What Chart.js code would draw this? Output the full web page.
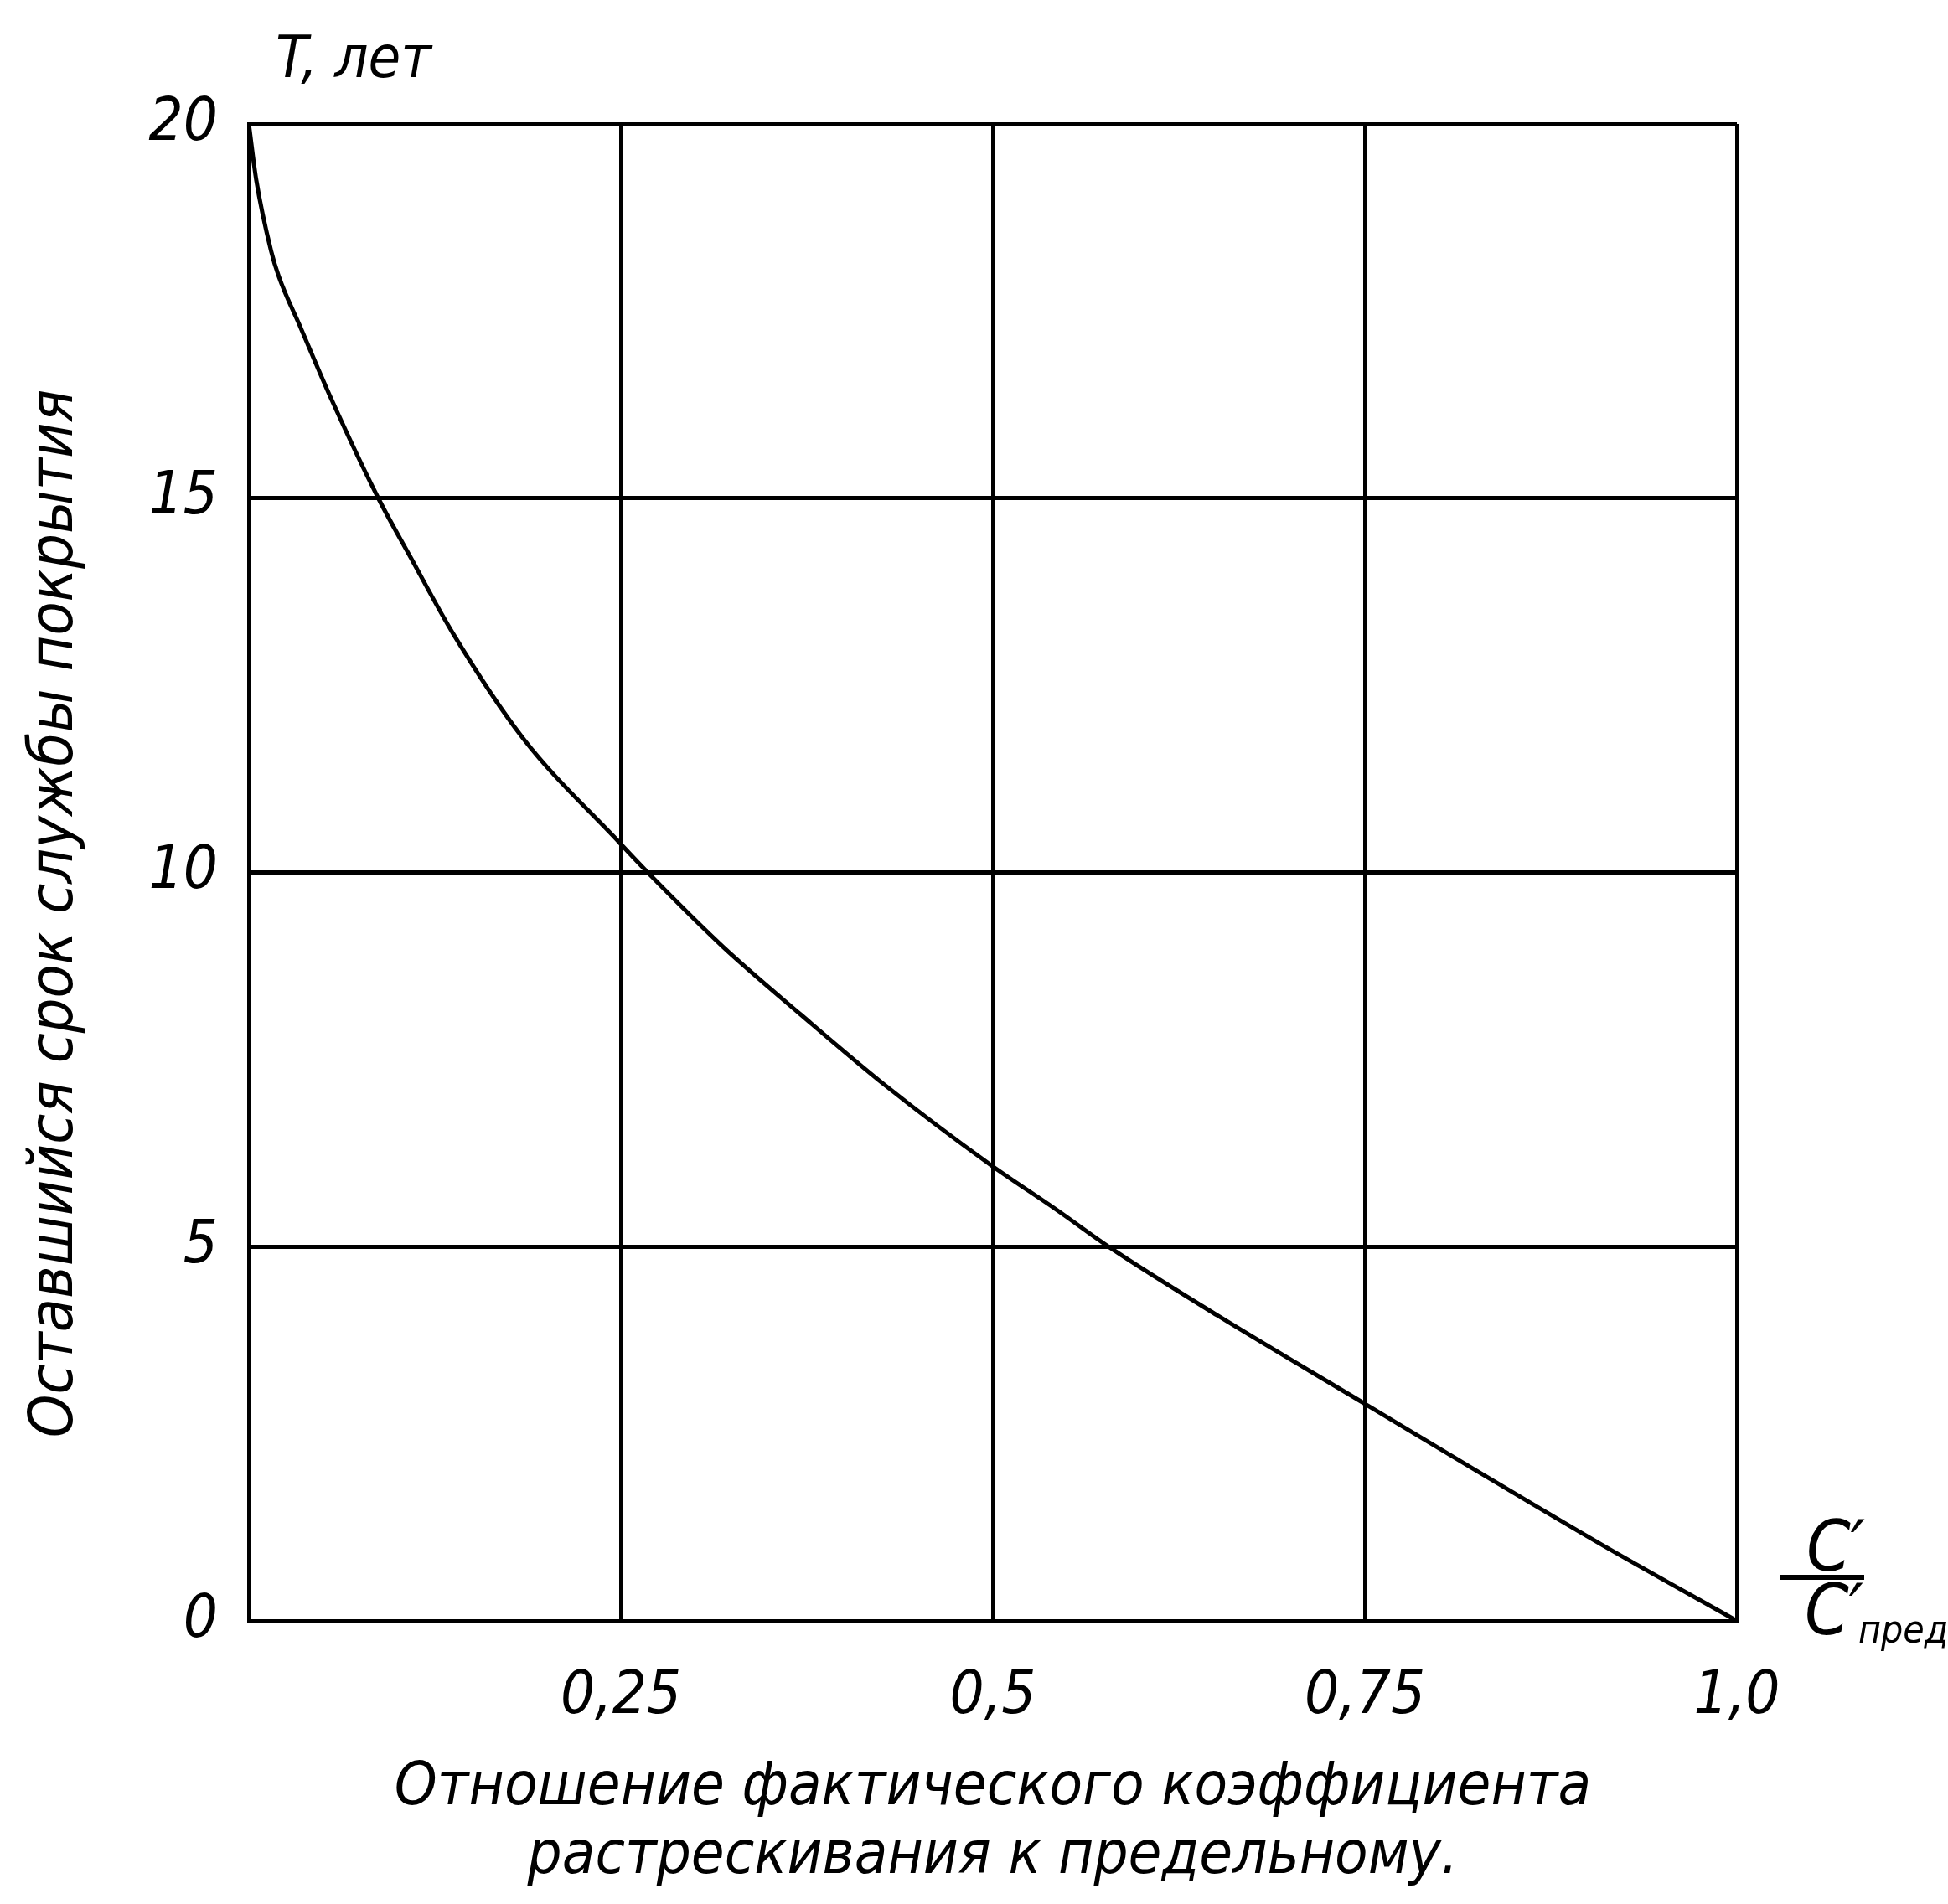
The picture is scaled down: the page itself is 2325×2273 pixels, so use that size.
<!DOCTYPE html>
<html lang="ru">
<head>
    <meta charset="UTF-8">
    <title>Оставшийся срок службы покрытия</title>
    <style>
        body {
            margin: 0;
            background-color: #fff;
        }
        #lifeChart {
            display: block;
        }
    </style>
    <script src="https://cdn.jsdelivr.net/npm/chart.js"></script>
</head>
<body>
    <canvas id="lifeChart" width="2325" height="2273"></canvas>
    <script>
        // values
        const ratioValues = [0, 0.005, 0.015, 0.02, 0.035, 0.056, 0.087, 0.109, 0.137, 0.184, 0.249, 0.27, 0.319, 0.371, 0.428, 0.498, 0.543, 0.58, 0.651, 0.75, 0.823, 0.909, 1.0];
        const lifeYears = [20, 19.25, 18.3, 17.97, 17.27, 16.3, 15.0, 14.2, 13.2, 11.8, 10.4, 9.96, 9.0, 8.1, 7.15, 6.1, 5.49, 4.97, 4.08, 2.9, 2.03, 1.02, 0];

        const xTickValues = [0, 0.25, 0.5, 0.75, 1];
        const xTickLabels = ['', '0,25', '0,5', '0,75', '1,0'];
        const yTickValues = [0, 5, 10, 15, 20];
        const yTickLabels = ['0', '5', '10', '15', '20'];

        const yUnitLabel = 'T, лет';
        const yTitle = 'Оставшийся срок службы покрытия';
        const xTitleLines = ['Отношение фактического коэффициента', 'растрескивания к предельному.'];

        const FONT = "'DejaVu Sans Condensed', 'DejaVu Sans', sans-serif";

        // T, лет, the rotated y title and the C'/C'пред fraction
        const extraLabels = {
            id: 'extraLabels',
            afterDraw(chart) {
                const { ctx, chartArea } = chart;
                ctx.save();
                ctx.fillStyle = '#000';
                ctx.textAlign = 'left';
                ctx.textBaseline = 'alphabetic';
                ctx.font = `italic 70px ${FONT}`;
                ctx.fillText(yUnitLabel, chartArea.left + 32, chartArea.top - 56);

                const fx = chartArea.right + 51;
                const fy = chartArea.bottom - 52;
                ctx.fillRect(fx, fy - 3, 101, 6);
                ctx.font = `italic 84px ${FONT}`;
                ctx.fillText('C\u2032', fx + 32, fy - 8);
                ctx.fillText('C\u2032', fx + 30, fy + 68);
                ctx.font = `italic 46px ${FONT}`;
                ctx.fillText('пред', fx + 94, fy + 78);

                ctx.translate(67, (chartArea.top + chartArea.bottom) / 2 + 49);
                ctx.rotate(-Math.PI / 2);
                ctx.textAlign = 'center';
                ctx.textBaseline = 'middle';
                ctx.font = `italic 73px ${FONT}`;
                ctx.fillText(yTitle, 0, 0);
                ctx.restore();
            }
        };

        const ctx = document.getElementById('lifeChart').getContext('2d');
        const chart = new Chart(ctx, {
            type: 'scatter',
            data: {
                datasets: [{
                    data: ratioValues.map((x, i) => ({ x: x, y: lifeYears[i] })),
                    showLine: true,
                    borderColor: '#000',
                    borderWidth: 5,
                    pointRadius: 0,
                    cubicInterpolationMode: 'monotone',
                    fill: false
                }]
            },
            options: {
                responsive: false,
                devicePixelRatio: 1,
                animation: false,
                layout: {
                    padding: { top: 148, right: 252, left: 0, bottom: 0 }
                },
                scales: {
                    x: {
                        type: 'linear',
                        min: 0,
                        max: 1,
                        afterBuildTicks: s => { s.ticks = xTickValues.map(v => ({ value: v })); },
                        afterFit: s => { s.height = 338; },
                        ticks: {
                            autoSkip: false,
                            maxRotation: 0,
                            padding: 48,
                            color: '#000',
                            font: { family: FONT, style: 'italic', size: 72 },
                            callback: (v, i) => xTickLabels[i]
                        },
                        grid: { color: '#000', lineWidth: 4, drawTicks: false },
                        border: { color: '#000', width: 5 },
                        title: {
                            display: true,
                            text: xTitleLines,
                            color: '#000',
                            font: { family: FONT, style: 'italic', size: 72, lineHeight: 1.15 },
                            padding: { top: 0, bottom: 14 }
                        }
                    },
                    y: {
                        type: 'linear',
                        min: 0,
                        max: 20,
                        afterBuildTicks: s => { s.ticks = yTickValues.map(v => ({ value: v })); },
                        afterFit: s => { s.width = 297; },
                        ticks: {
                            autoSkip: false,
                            padding: 37,
                            color: '#000',
                            font: { family: FONT, style: 'italic', size: 72 },
                            callback: (v, i) => yTickLabels[i]
                        },
                        grid: { color: '#000', lineWidth: 5, drawTicks: false },
                        border: { color: '#000', width: 5 }
                    }
                },
                plugins: {
                    legend: { display: false },
                    tooltip: { enabled: false }
                }
            },
            plugins: [extraLabels]
        });
    </script>
</body>
</html>
